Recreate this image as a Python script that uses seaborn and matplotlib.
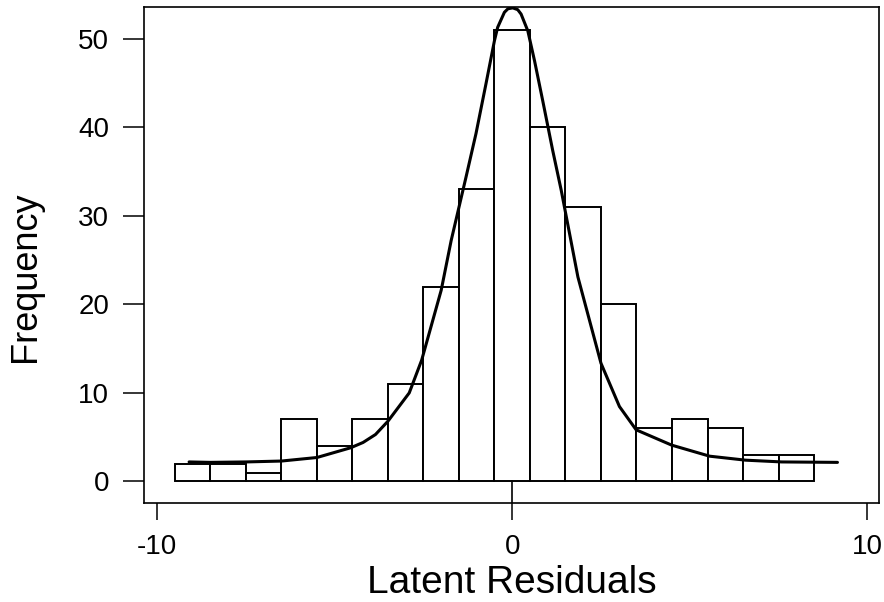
import numpy as np
import pandas as pd
import matplotlib
matplotlib.use("Agg")
import matplotlib.pyplot as plt
import seaborn as sns

# histogram counts, one bin per integer residual value
bin_centers = [-9, -8, -7, -6, -5, -4, -3, -2, -1, 0, 1, 2, 3, 4, 5, 6, 7, 8]
counts = [2, 2, 1, 7, 4, 7, 11, 22, 33, 51, 40, 31, 20, 6, 7, 6, 3, 3]

# fitted density curve
curve_x = [-9.1, -8.5, -7.5, -6.5, -5.5, -4.55, -4.2, -3.85, -3.5, -2.9, -2.55,
           -2.0, -1.72, -1.30, -1.02, -0.74, -0.50, -0.41, -0.22, -0.12, 0.015,
           0.155, 0.25, 0.44, 0.63, 0.86, 1.14, 1.38, 1.85, 2.5, 3.02, 3.49,
           4.49, 5.56, 6.57, 7.59, 9.16]
curve_y = [2.2, 2.15, 2.2, 2.3, 2.7, 3.8, 4.4, 5.3, 6.8, 10.0, 13.7,
           21.6, 27.2, 34.4, 39.3, 44.9, 49.8, 51.3, 53.0, 53.4, 53.5,
           53.3, 52.8, 50.9, 47.5, 43.0, 37.4, 32.9, 23.1, 13.35, 8.46, 5.83,
           4.1, 2.85, 2.4, 2.2, 2.15]

xticks = [-10, 0, 10]
yticks = [0, 10, 20, 30, 40, 50]

df = pd.DataFrame({'resid': bin_centers, 'count': counts})
edges = [c - 0.5 for c in bin_centers] + [bin_centers[-1] + 0.5]

sns.set_style("ticks")
plt.rcParams['font.family'] = ['Liberation Sans', 'DejaVu Sans']
plt.rcParams['axes.unicode_minus'] = False
plt.rcParams['text.color'] = 'black'
plt.rcParams['axes.labelcolor'] = 'black'
plt.rcParams['xtick.color'] = 'black'
plt.rcParams['ytick.color'] = 'black'

fig = plt.figure(figsize=(8.84, 6.02), dpi=100)
ax = fig.add_axes([144 / 884, 1 - 503 / 602, 735 / 884, 496 / 602])

sns.histplot(data=df, x='resid', weights='count', bins=edges, ax=ax,
             color='white', edgecolor='black', linewidth=1.4, alpha=1)
sns.lineplot(x=curve_x, y=curve_y, ax=ax, color='black', linewidth=2.2)

ax.set_xlim(-10.37, 10.33)
ax.set_ylim(-2.44, 53.6)
ax.axvline(0, ymin=0, ymax=2.44 / (53.6 + 2.44), color='black', linewidth=1.2)

ax.set_xticks(xticks)
ax.set_yticks(yticks)
ax.tick_params(axis='y', length=15, width=1.1, pad=10, labelsize=20)
ax.tick_params(axis='x', length=12, width=1.1, pad=10, labelsize=20)
for s in ax.spines.values():
    s.set_linewidth(1.2)
    s.set_color('black')

ax.set_xlabel('Latent Residuals', fontsize=28)
ax.set_ylabel('Frequency', fontsize=26)
ax.yaxis.set_label_coords(-0.137, 0.456)
ax.xaxis.set_label_coords(0.5, -0.125)

plt.savefig('out.png', dpi=100)
